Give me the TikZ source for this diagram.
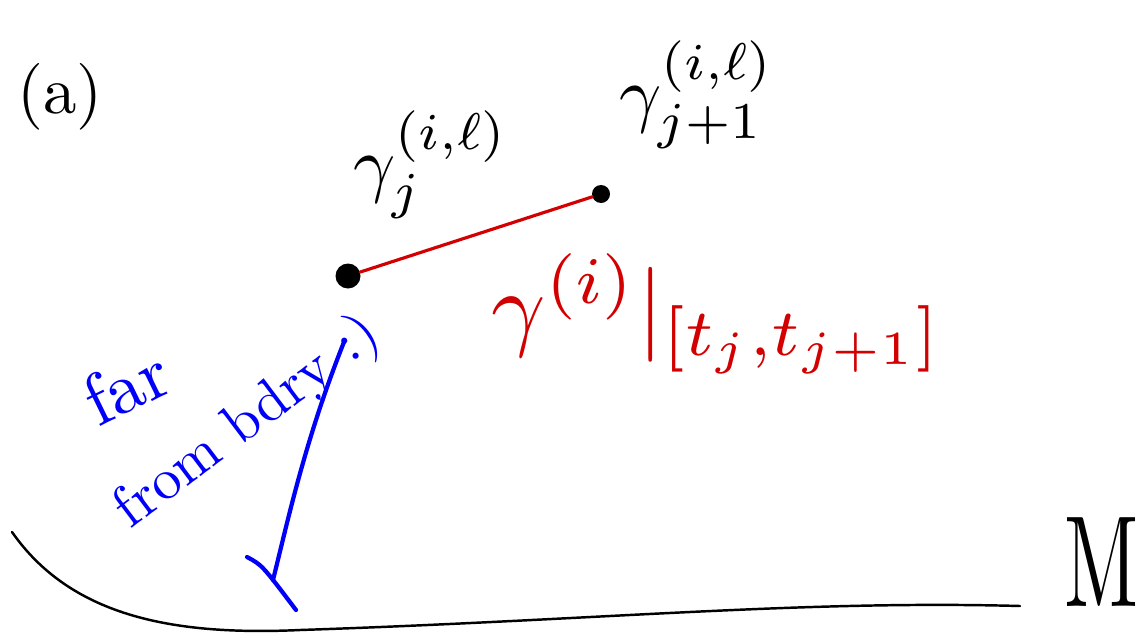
\documentclass[tikz,border=0pt]{standalone}
\usepackage{amsmath}
\usetikzlibrary{positioning}
\definecolor{inkred}{RGB}{210,0,0}
\definecolor{inkblue}{RGB}{0,0,250}
\begin{document}
\begin{tikzpicture}[x=0.02cm, y=-0.02cm, line cap=round,
  pt/.style={circle, fill=black, inner sep=0pt},
  lbl/.style={inner sep=0pt, scale=4.2},
  redlbl/.style={inner sep=0pt, text=inkred, scale=5.4},
  bluelbl/.style={inner sep=0pt, text=inkblue, scale=3.3}]
\useasboundingbox (0,0) rectangle (1142,636);
% panel tag
\node[inner sep=0pt, scale=3.8] (tag) at (60,97) {(a)};
% the two points and the segment
\node[pt, minimum size=0.5cm] (pj) at (348,276) {};
\node[pt, minimum size=0.36cm] (pk) at (601,194) {};
\draw[inkred, line width=1.8pt] (pj) -- (pk);
\node[lbl, anchor=base west] (gj) at (352,188) {$\gamma_j^{(i,\ell)}$};
\node[lbl, anchor=base west] (gk) at (618,118) {$\gamma_{j+1}^{(i,\ell)}$};
\node[redlbl, anchor=base west] (gi) at (490,338) {$\gamma^{(i)}|_{[t_j,t_{j+1}]}$};
% distance to the boundary
\node[bluelbl, scale=1.25, rotate=26] (far) at (126,386) {far};
\node[bluelbl, rotate=37, anchor=base west] (from) at (130,530) {from bdry :)};
\coordinate (btop) at (344,342);
\coordinate (bfoot) at (273,580);
\coordinate (tickA) at (247,557);
\coordinate (tickB) at (296,610);
\draw[inkblue, line width=2.4pt] (btop) .. controls (305,440) and (288,520) .. (bfoot);
\draw[inkblue, line width=2.4pt] (tickA) .. controls (262,565) .. (tickB);
% the manifold boundary
\coordinate (mL) at (12,532);
\coordinate (mR) at (1020,606);
\draw[line width=1.4pt] (mL) .. controls (70,615) and (170,636) .. (300,630)
  .. controls (600,620) and (800,600) .. (mR);
\node[inner sep=0pt, xscale=4.6, yscale=7.4] (M) at (1102,562) {M};
\end{tikzpicture}
\end{document}
